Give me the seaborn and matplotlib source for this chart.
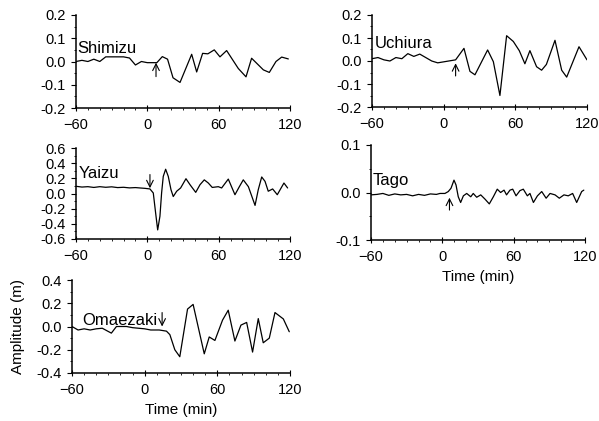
import matplotlib
matplotlib.use("Agg")
import matplotlib.pyplot as plt
import seaborn as sns
from matplotlib.ticker import MultipleLocator, FormatStrFormatter

sns.set_theme(style="ticks")
plt.rcParams["font.family"] = ["Liberation Sans", "DejaVu Sans"]
plt.rcParams.update({"text.color": "black", "axes.labelcolor": "black",
                     "xtick.color": "black", "ytick.color": "black"})

# Tide gauge records, time in minutes, amplitude in metres
shimizu_t = [-60, -55, -50, -45, -40, -35, -30, -20, -15, -10, -5, 0, 8, 12.6,
             17, 21.6, 27.5, 37.3, 41.5, 46.5, 50.9, 56.3, 61.1, 66.7, 76.5,
             83, 87.7, 97.6, 102.6, 108.2, 113, 118.6]
shimizu_a = [0.0, 0.005, 0.0, 0.01, 0.0, 0.02, 0.02, 0.02, 0.015, -0.015, 0.0,
             -0.005, -0.005, 0.021, 0.01, -0.07, -0.09, 0.031, -0.045, 0.035,
             0.033, 0.05, 0.02, 0.047, -0.03, -0.066, 0.014, -0.036, -0.047,
             0.0, 0.019, 0.011]

uchiura_t = [-60, -55, -50, -45, -40, -35, -30, -25, -20, -15, -10, -5, 10,
             17, 22, 26.2, 36.8, 41.6, 47.1, 52.7, 58.3, 63.3, 68, 72.2, 77.8,
             82, 86, 93.2, 98.8, 103, 113.3, 120]
uchiura_a = [0.01, 0.015, 0.005, 0.0, 0.015, 0.01, 0.032, 0.02, 0.03, 0.015,
             0.0, -0.008, 0.005, 0.055, -0.045, -0.06, 0.048, -0.003, -0.15,
             0.11, 0.085, 0.045, -0.012, 0.045, -0.025, -0.04, -0.015, 0.09,
             -0.04, -0.07, 0.062, 0.005]

yaizu_t = [-60, -55, -50, -45, -40, -35, -30, -25, -20, -15, -10, -6.2, -2,
           2.2, 5, 7, 8.7, 10.6, 12, 13.4, 15.4, 17.6, 19.9, 21.8, 24.7, 28,
           32.5, 35.9, 40.7, 44.3, 47.9, 51.3, 54.6, 59.7, 62.5, 68.1, 73.7,
           77.4, 80.7, 85, 90.6, 93.3, 96.2, 99, 101.7, 105.4, 109.3, 114.9,
           118]
yaizu_a = [0.095, 0.085, 0.09, 0.08, 0.09, 0.082, 0.088, 0.078, 0.082, 0.074,
           0.078, 0.073, 0.068, 0.06, 0.007, -0.26, -0.48, -0.3, 0.007, 0.226,
           0.32, 0.226, 0.05, -0.04, 0.03, 0.073, 0.195, 0.116, 0.015, 0.116,
           0.18, 0.138, 0.08, 0.09, 0.073, 0.19, -0.016, 0.09, 0.18, 0.09,
           -0.157, 0.05, 0.218, 0.16, 0.03, 0.06, -0.016, 0.138, 0.073]

tago_t = [-60, -55, -50, -45, -40, -35, -30, -25, -20, -15, -10, -5, -2, 2.2,
          5, 7.3, 9.8, 11.5, 13.4, 15.4, 17.7, 20.5, 23.9, 26, 28.9, 32.3,
          35.9, 39.5, 42.9, 46.2, 49, 51.9, 54, 56.9, 59.2, 62, 65.3, 68.1,
          71.5, 73.7, 76.6, 80, 83.6, 87.3, 90.6, 94.8, 98.4, 102.3, 105.9,
          109.6, 113, 117.2, 119]
tago_a = [-0.005, -0.004, -0.002, -0.006, -0.003, -0.005, -0.004, -0.007,
          -0.004, -0.006, -0.003, -0.004, -0.002, -0.002, 0.002, 0.009, 0.026,
          0.016, -0.009, -0.021, -0.007, -0.002, -0.009, -0.002, -0.01,
          -0.005, -0.014, -0.024, -0.009, 0.007, 0.0, 0.005, -0.005, 0.005,
          0.007, -0.007, 0.004, 0.007, -0.007, -0.002, -0.021, -0.007, 0.002,
          -0.012, -0.002, -0.005, -0.012, -0.005, -0.007, -0.002, -0.021,
          0.002, 0.005]

omaezaki_t = [-60, -55, -50, -45, -40, -35, -27.5, -23.3, -15, -10, 0, 5, 12,
              18, 20.8, 24.9, 29, 35.4, 40, 49.2, 53.3, 58, 64.3, 69, 74.5,
              79.5, 84.2, 89.1, 93.8, 97.9, 102.9, 107.6, 114.5, 119.4]
omaezaki_a = [0.0, -0.03, -0.02, -0.03, -0.02, -0.015, -0.057, 0.0, 0.0,
              -0.01, -0.02, -0.03, -0.03, -0.04, -0.07, -0.2, -0.26, 0.15,
              0.19, -0.235, -0.09, -0.12, 0.055, 0.14, -0.125, 0.012, 0.035,
              -0.22, 0.068, -0.14, -0.1, 0.12, 0.065, -0.045]

# station, times, amps, axes pixels (l, r, t, b), ylim, ystep, label (x, y), arrow (t, tail, tip)
panels = [
    ("Shimizu", shimizu_t, shimizu_a, (76, 290, 15, 108), 0.2, 0.1, (-59, 0.058), (7.3, -0.065, -0.005)),
    ("Uchiura", uchiura_t, uchiura_a, (372, 587, 15, 107), 0.2, 0.1, (-58, 0.076), (10, -0.065, -0.01)),
    ("Yaizu", yaizu_t, yaizu_a, (76, 290, 148, 239), 0.6, 0.2, (-57.5, 0.26), (2.2, 0.25, 0.07)),
    ("Tago", tago_t, tago_a, (371, 585, 145, 240), 0.1, 0.1, (-58.5, 0.025), (6, -0.037, -0.011)),
    ("Omaezaki", omaezaki_t, omaezaki_a, (72, 290, 280, 373), 0.4, 0.2, (-51.5, 0.05), (14.4, 0.12, 0.0)),
]

W, H = 599, 421
fig = plt.figure(figsize=(W / 100, H / 100), dpi=100)

for name, t, a, (l, r, top, b), ylim, ystep, (lx, ly), (at, tail, tip) in panels:
    ax = fig.add_axes([l / W, 1 - b / H, (r - l) / W, (b - top) / H])
    sns.lineplot(x=t, y=a, ax=ax, color="black", lw=0.9)
    ax.set_xlim(-60, 120)
    ax.set_ylim(-ylim, ylim)
    ax.xaxis.set_major_locator(MultipleLocator(60))
    ax.xaxis.set_minor_locator(MultipleLocator(10))
    ax.yaxis.set_major_locator(MultipleLocator(ystep))
    ax.yaxis.set_minor_locator(MultipleLocator(ystep / 2))
    ax.yaxis.set_major_formatter(FormatStrFormatter("%.1f"))
    ax.tick_params(axis="both", labelsize=10.5, width=0.8, color="black")
    ax.tick_params(axis="y", length=3.5, pad=4)
    ax.tick_params(axis="x", direction="inout", length=5, pad=5)
    ax.tick_params(which="minor", length=1.5, width=0.6)
    for s in ("top", "right"):
        ax.spines[s].set_visible(False)
    for s in ("left", "bottom"):
        ax.spines[s].set_linewidth(1.1)
        ax.spines[s].set_color("black")
    ax.text(lx, ly, name, fontsize=12, va="center", ha="left")
    ax.annotate("", xy=(at, tip), xytext=(at, tail),
                arrowprops=dict(arrowstyle="->", lw=0.8, color="black",
                                shrinkA=0, shrinkB=0))
    ax.set_xlabel("")
    ax.set_ylabel("")
    if name in ("Tago", "Omaezaki"):
        ax.set_xlabel("Time (min)", fontsize=11, labelpad=4)
    if name == "Omaezaki":
        ax.set_ylabel("Amplitude (m)", fontsize=11, labelpad=8)

fig.savefig("out.png", dpi=100)
